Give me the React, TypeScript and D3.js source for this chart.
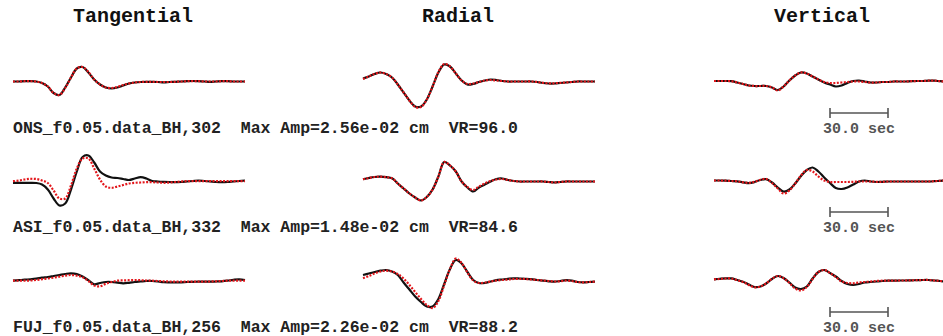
import React from 'react';
import * as d3 from 'd3';

// time axis of every trace (sec), one sample every 3 s
const times = d3.range(0, 121, 3);

const components = ['Tangential', 'Radial', 'Vertical'];

const stations = [
  'ONS_f0.05.data_BH,302',
  'ASI_f0.05.data_BH,332',
  'FUJ_f0.05.data_BH,256',
];
const maxAmps = ['2.56e-02', '1.48e-02', '2.26e-02'];
const varRed = ['96.0', '84.6', '88.2'];

// observed (black) and synthetic (red) amplitudes, per station and component
const onsTanObs = [0, 0, 0.3, 0.3, 0, -1.5, -5, -11.5, -13.5, -6, 4, 13, 14.5, 9, 2, -3, -6, -7, -6, -4, -2, -1, -0.5, -0.3, -0.3, -0.5, -0.8, -0.5, -0.3, 0, 0.3, 0.5, 0.3, 0, -0.3, 0, 0.3, 0.3, 0, 0, 0];
const onsTanSyn = [0, 0, 0.3, 0.3, 0, -1.5, -5, -11.5, -13.5, -6.5, 4, 13, 14.5, 9.5, 2, -3, -6, -6.5, -5.5, -3.5, -2, -1, -0.5, -0.3, -0.3, -0.5, -0.5, -0.5, -0.3, 0, 0.3, 0.3, 0.3, 0, 0, 0, 0.3, 0.3, 0, 0, 0];
const onsRadObs = [3, 5, 7.5, 9, 7.5, 4, -3, -11, -19, -25, -25, -18, -5, 9, 17, 15, 8, 1, -3, -2.5, -0.5, 1, 2, 1.5, 0.5, 0, 0, 0, 0, 0, -0.5, -1.5, -2, -2, -1.5, -1, -0.5, 0, 0, 0, 0];
const onsRadSyn = [2.5, 5, 7.5, 9, 7.5, 4, -3, -11, -19, -25.5, -25.5, -18, -5, 9.5, 17.5, 15, 8, 1, -2.5, -2, -0.5, 1, 1.5, 1, 0.5, 0, 0, 0, 0, 0, -0.5, -1.3, -1.8, -1.8, -1.3, -1, -0.5, 0, 0, 0, 0];
const onsVerObs = [0.5, 0.5, 0.5, 0.3, -1, -2.5, -4, -4.5, -4.5, -4.5, -6, -8.5, -5, 1, 6, 9, 8, 5, 2, -1, -3, -5, -4, -1.5, 0.5, 1, 0, -1, -1, -0.5, -0.5, 0, 0, 0, 0.3, 0.5, 0.5, 0.8, 0.8, 0.3, 0];
const onsVerSyn = [0.5, 0.5, 0.5, 0.3, -1, -2.5, -4, -4.5, -4.5, -4.5, -6, -9, -5, 1, 6, 9, 8, 5, 2, -0.5, -1.5, -1.5, -1, -0.5, 0, 0, -0.5, -1, -1, -0.5, -0.5, 0, 0, 0, 0.3, 0.5, 0.5, 0.8, 0.8, 0.3, 0];

const asiTanObs = [-1.3, -1.3, -1.3, -1.3, -1.5, -3, -8, -17, -24, -22, -8, 10, 24.5, 26, 19, 10, 6, 4, 3.5, 2.5, 1.5, 3, 4.3, 3, 0.5, 0, -0.3, -0.5, -0.7, -0.5, 0, 0.5, 1, 0.5, 0, -0.5, -0.7, -0.5, 0, 0.5, 1];
const asiTanSyn = [0.3, 1, 2, 2.7, 2.5, 1, -1.5, -9, -17, -17, -4, 13, 23, 23, 13, 2, -5, -6.3, -5, -3.5, -2, -1.3, -1, -0.7, -0.7, -1, -1.3, -1, -0.5, 0, 0.3, 0.3, 0.3, 0.3, 0.3, 0.3, 0.3, 0.3, 0.3, 0.3, 0.3];
const asiRadObs = [2.2, 3.5, 4.5, 4.8, 4.3, 3.2, -2, -7, -12, -16, -19, -15.5, -8, 5, 19.5, 16, 10, 0, -6, -10, -6, -3, 0, 2.5, 3, 1.5, 0.5, 0, 0, 0, 0, 0, -0.5, -1, -0.5, 0, 0, 0, 0, 0, 0];
const asiRadSyn = [2.2, 3.5, 4.5, 4.8, 4.3, 3.2, -2, -7, -12, -16, -19, -15.5, -8, 5, 19.5, 16, 10, 0, -5.5, -8.5, -5, -2, 0.5, 2, 2.5, 1.5, 0.5, 0, 0, 0, 0, 0, -0.5, -1, -0.5, 0, 0, 0, 0, 0, 0];
const asiVerObs = [1, 1, 0.8, 0.5, 0.2, -0.8, -1.6, -0.5, 1.5, 2.3, -1, -6, -10, -8, -2, 5.5, 11.5, 14, 10, 4, -1.5, -6.5, -7.5, -6, -3, 0, 1, 0, -0.5, -0.3, 0, 0, 0, 0, 0, 0, 0, 0, 0.3, 0.7, 1];
const asiVerSyn = [1, 1, 0.8, 0.5, 0.2, -0.8, -1.3, -0.3, 1.8, 2.5, -1.5, -7, -12, -9, -2, 6, 11.5, 10, 5, 1, -0.5, -0.5, -0.5, -0.5, -0.3, 0, 0, 0, -0.3, -0.3, 0, 0, 0, 0, 0, 0, 0, 0, 0.3, 0.7, 1];

const fujTanObs = [0.3, 0.8, 1.3, 1.7, 2.3, 3.3, 4, 5, 6, 7, 7.7, 7, 4.5, 0.8, -3.3, -2, -1, -1, -1.6, -2.3, -1.8, -1, -0.5, 0, 0, -0.5, -1.2, -1.3, -1.3, -1.3, -1, -0.8, -0.7, -0.7, -0.7, -0.5, -0.3, 0.3, 1.2, 1.7, 1];
const fujTanSyn = [0.3, 0.3, 0.3, 0.5, 1, 1.8, 2.5, 3.3, 4.3, 5.3, 6, 5.3, 3.8, 0, -4.5, -5.3, -2.8, -1, 0.3, 0.6, 0.8, 1, 0.8, 0.5, 0.3, 0, -0.3, -0.5, -0.7, -0.7, -0.7, -0.7, -0.7, -0.7, -0.5, -0.3, 0, 0.3, 0.3, 0.3, 0.3];
const fujRadObs = [6, 7.5, 9, 10.3, 11, 9.5, 6, -1.5, -8.5, -15.5, -21, -25.5, -25.5, -18, -3, 12, 21, 17.5, 9, 1, -2, -2, -0.5, 0.8, 1.5, 2.2, 2.7, 2.5, 2.2, 1.8, 1, 0.3, -0.3, -0.7, 0, 0.8, 0.3, -1, -1.3, -1, -0.7];
const fujRadSyn = [2.7, 5, 7.5, 9.5, 10.3, 9.5, 7, 2.5, -4, -11, -18, -24, -27, -20, -4, 12, 22.5, 18, 8.5, 0.5, -2, -1.5, -0.5, 0.5, 1, 1.5, 2, 2, 2, 1.5, 1, 0.5, 0, -0.5, -0.3, 0.5, 0, -1, -1.3, -1, -0.7];
const fujVerObs = [1.7, 2.2, 2.6, 2.6, 1, -0.7, -3.5, -6, -5.5, -2.5, 2, 5, 3, -1.5, -6.5, -8, -5.5, 2.5, 9, 11, 8, 4.5, 0, -3, -4, -3, -1.5, -1, -0.5, 0, 0.3, 0.3, 0.5, 0.5, 0.7, 0.8, 1, 1, 0.5, 0, -0.7];
const fujVerSyn = [1.7, 2, 2.5, 2.5, 0.8, -1, -4, -6.3, -5.5, -2.3, 2.3, 5, 2.8, -2, -7.5, -9.5, -6, 2, 9, 11, 8, 4, -0.5, -2, -2.3, -1.5, -1, -0.5, 0, 0.3, 0.3, 0.3, 0.5, 0.5, 0.7, 0.8, 1, 1, 0.5, 0, -0.7];

const observed = [
  [onsTanObs, onsRadObs, onsVerObs],
  [asiTanObs, asiRadObs, asiVerObs],
  [fujTanObs, fujRadObs, fujVerObs],
];
const synthetic = [
  [onsTanSyn, onsRadSyn, onsVerSyn],
  [asiTanSyn, asiRadSyn, asiVerSyn],
  [fujTanSyn, fujRadSyn, fujVerSyn],
];

const scaleBarSec = [60, 90];

const W = 943;
const H = 336;
const colLeft = [13, 363, 714];
const traceWidth = 232;
const titleX = [133, 458, 822];
const rowBase = [81.5, 181.5, 281];
const labelY = [133, 232, 332];
const mono = "'Liberation Mono', 'DejaVu Sans Mono', monospace";

const App: React.FC = () => {
  const xScales = colLeft.map(x0 =>
    d3.scaleLinear().domain([0, 120]).range([x0, x0 + traceWidth])
  );
  const yScales = rowBase.map(b =>
    d3.scaleLinear().domain([-30, 30]).range([b + 30, b - 30])
  );

  const makeLine = (r: number, c: number) =>
    d3.line<number>()
      .x((_, i) => xScales[c](times[i]))
      .y(d => yScales[r](d))
      .curve(d3.curveCatmullRom.alpha(0.5));

  return (
    <svg width={W} height={H} style={{ position: 'absolute', left: 0, top: 0, background: '#fff' }}>
      {components.map((name, c) => (
        <text key={name} x={titleX[c]} y={22} textAnchor="middle"
          fontFamily={mono} fontWeight="bold" fontSize={20} fill="#111">
          {name}
        </text>
      ))}

      {stations.map((st, r) => (
        <g key={st}>
          {components.map((_, c) => (
            <g key={c}>
              <path d={makeLine(r, c)(observed[r][c]) || ''} fill="none"
                stroke="#111" strokeWidth={2.2} strokeLinejoin="round" />
              <path d={makeLine(r, c)(synthetic[r][c]) || ''} fill="none"
                stroke="#e3161b" strokeWidth={2.2} strokeDasharray="2,1.5" />
            </g>
          ))}
          <text x={13} y={labelY[r]} fontFamily={mono} fontWeight="bold"
            fontSize={16.5} fill="#222" style={{ whiteSpace: 'pre' }}>
            {`${st}  Max Amp=${maxAmps[r]} cm  VR=${varRed[r]}`}
          </text>

          {/* 30 s scale bar under the vertical trace */}
          <g stroke="#555" strokeWidth={1.6}>
            <line x1={xScales[2](scaleBarSec[0])} x2={xScales[2](scaleBarSec[1])}
              y1={labelY[r] - 20} y2={labelY[r] - 20} />
            <line x1={xScales[2](scaleBarSec[0])} x2={xScales[2](scaleBarSec[0])}
              y1={labelY[r] - 25} y2={labelY[r] - 15} />
            <line x1={xScales[2](scaleBarSec[1])} x2={xScales[2](scaleBarSec[1])}
              y1={labelY[r] - 25} y2={labelY[r] - 15} />
          </g>
          <text x={(xScales[2](scaleBarSec[0]) + xScales[2](scaleBarSec[1])) / 2}
            y={labelY[r]} textAnchor="middle" fontFamily={mono} fontWeight="bold"
            fontSize={15} fill="#555">
            {`${(scaleBarSec[1] - scaleBarSec[0]).toFixed(1)} sec`}
          </text>
        </g>
      ))}
    </svg>
  );
};

export default App;
